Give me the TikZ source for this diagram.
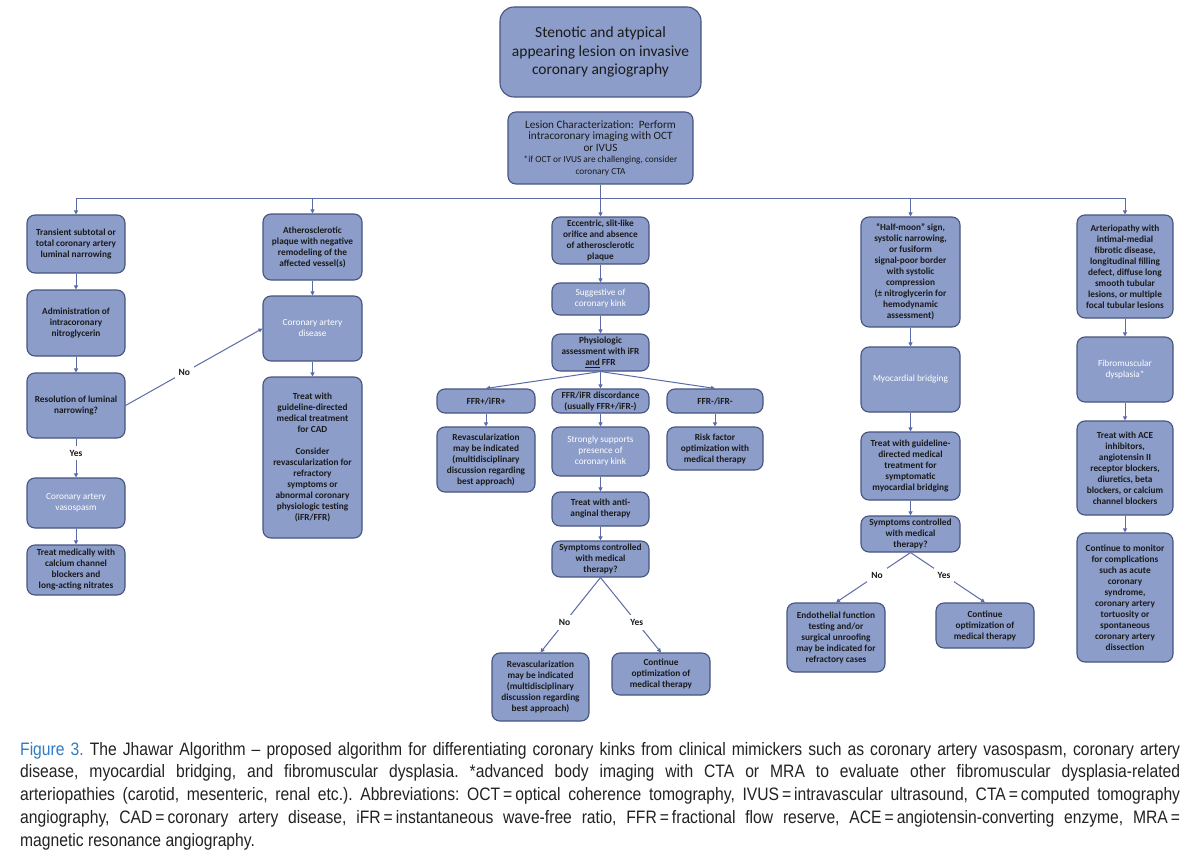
\documentclass[tikz,border=0pt]{standalone}
\usepackage{fontspec}
\usetikzlibrary{arrows.meta}
\newfontfamily\carl{Carlito}
\newfontfamily\capfont[FakeStretch=0.87]{Liberation Sans}
\definecolor{boxfill}{HTML}{8C9DCA}
\definecolor{boxdraw}{HTML}{46547F}
\definecolor{conn}{HTML}{5B6BA8}
\definecolor{figblue}{HTML}{2E7BC4}
\definecolor{txt}{HTML}{1A1A1A}
\definecolor{captxt}{HTML}{222222}
\begin{document}
\begin{tikzpicture}[x=1pt,y=-1pt,
  box/.style={draw=boxdraw, line width=1.1pt, fill=boxfill, rounded corners=8pt,
    align=center, inner sep=0pt, text=txt, font=\carl\bfseries\fontsize{9.3}{11}\selectfont},
  wt/.style={text=white, font=\carl\fontsize{9.3}{11}\selectfont},
  arr/.style={draw=conn, line width=1pt, -{Triangle[length=4pt,width=4pt]}},
  ln/.style={draw=conn, line width=1pt},
  lbl/.style={fill=white, inner sep=4pt, font=\carl\bfseries\fontsize{9.5}{11}\selectfont, text=txt}]
\useasboundingbox (0,0) rectangle (1200,856);
\fill[white] (0,0) rectangle (1200,856);

% top
\node[box, rounded corners=14pt, minimum width=201pt, minimum height=90pt,
  font=\carl\fontsize{15.5}{18.5}\selectfont] (top) at (600.5,52)
  {Stenotic and atypical\\appearing lesion on invasive\\coronary angiography};
\node[box, minimum width=185pt, minimum height=72pt,
  font=\carl\fontsize{11.2}{11.5}\selectfont] (lc) at (600.5,148)
  {Lesion Characterization:\ \ Perform\\intracoronary imaging with OCT\\or IVUS\\
   \fontsize{9.3}{9}\selectfont *if OCT or IVUS are challenging, consider\\
   \fontsize{9.3}{9}\selectfont coronary CTA};

% column 1
\node[box, minimum width=98pt, minimum height=58pt] (a1) at (76,244)
  {Transient subtotal or\\total coronary artery\\luminal narrowing};
\node[box, minimum width=98pt, minimum height=66pt] (a2) at (76,323)
  {Administration of\\intracoronary\\nitroglycerin};
\node[box, minimum width=98pt, minimum height=65pt] (a3) at (76,405.5)
  {Resolution of luminal\\narrowing?};
\node[box, wt, minimum width=98pt, minimum height=50pt] (a4) at (76,503)
  {Coronary artery\\vasospasm};
\node[box, minimum width=98pt, minimum height=50pt] (a5) at (76,570)
  {Treat medically with\\calcium channel\\blockers and\\long-acting nitrates};

% column 2
\node[box, minimum width=99pt, minimum height=66pt] (b1) at (312.5,247)
  {Atherosclerotic\\plaque with negative\\remodeling of the\\affected vessel(s)};
\node[box, wt, minimum width=99pt, minimum height=65pt] (b2) at (312.5,328.5)
  {Coronary artery\\disease};
\node[box, minimum width=99pt, minimum height=161pt] (b3) at (312.5,457.5)
  {Treat with\\guideline-directed\\medical treatment\\for CAD\\[11pt]Consider\\revascularization for\\refractory\\symptoms or\\abnormal coronary\\physiologic testing\\(iFR/FFR)};

% column 3
\node[box, minimum width=97pt, minimum height=47pt] (c1) at (600.5,240.5)
  {Eccentric, slit-like\\orifice and absence\\of atherosclerotic\\plaque};
\node[box, wt, minimum width=97pt, minimum height=32pt] (c2) at (600.5,299)
  {Suggestive of\\coronary kink};
\node[box, minimum width=97pt, minimum height=37pt] (c3) at (600.5,352.5)
  {Physiologic\\assessment with iFR\\\underline{and} FFR};
\node[box, minimum width=98pt, minimum height=24pt] (c4l) at (486,401) {FFR+/iFR+};
\node[box, minimum width=97pt, minimum height=24pt] (c4m) at (600.5,401)
  {FFR/iFR discordance\\(usually FFR+/iFR-)};
\node[box, minimum width=96pt, minimum height=24pt] (c4r) at (715,401) {FFR-/iFR-};
\node[box, minimum width=98pt, minimum height=65pt] (c5l) at (486,459.5)
  {Revascularization\\may be indicated\\(multidisciplinary\\discussion regarding\\best approach)};
\node[box, wt, minimum width=97pt, minimum height=49pt] (c5m) at (600.5,451.5)
  {Strongly supports\\presence of\\coronary kink};
\node[box, minimum width=96pt, minimum height=43pt] (c5r) at (715,448.5)
  {Risk factor\\optimization with\\medical therapy};
\node[box, minimum width=97pt, minimum height=34pt] (c6) at (600.5,509)
  {Treat with anti-\\anginal therapy};
\node[box, minimum width=97pt, minimum height=36pt] (c7) at (600.5,559)
  {Symptoms controlled\\with medical\\therapy?};
\node[box, minimum width=97pt, minimum height=68pt] (c8l) at (540.5,687)
  {Revascularization\\may be indicated\\(multidisciplinary\\discussion regarding\\best approach)};
\node[box, minimum width=98pt, minimum height=42pt] (c8r) at (661,674)
  {Continue\\optimization of\\medical therapy};

% column 4
\node[box, minimum width=99pt, minimum height=110pt] (d1) at (910.5,272)
  {“Half-moon” sign,\\systolic narrowing,\\or fusiform\\signal-poor border\\with systolic\\compression\\(± nitroglycerin for\\hemodynamic\\assessment)};
\node[box, wt, minimum width=99pt, minimum height=65pt] (d2) at (910.5,379.5)
  {Myocardial bridging};
\node[box, minimum width=99pt, minimum height=68pt] (d3) at (910.5,466)
  {Treat with guideline-\\directed medical\\treatment for\\symptomatic\\myocardial bridging};
\node[box, minimum width=99pt, minimum height=36pt] (d4) at (910.5,534)
  {Symptoms controlled\\with medical\\therapy?};
\node[box, minimum width=98pt, minimum height=69pt] (d5l) at (836,637.5)
  {Endothelial function\\testing and/or\\surgical unroofing\\may be indicated for\\refractory cases};
\node[box, minimum width=98pt, minimum height=45pt] (d5r) at (985,625.5)
  {Continue\\optimization of\\medical therapy};

% column 5
\node[box, minimum width=96pt, minimum height=103pt] (e1) at (1125,266.5)
  {Arteriopathy with\\intimal-medial\\fibrotic disease,\\longitudinal filling\\defect, diffuse long\\smooth tubular\\lesions, or multiple\\focal tubular lesions};
\node[box, wt, minimum width=96pt, minimum height=65pt] (e2) at (1125,369.5)
  {Fibromuscular\\dysplasia*};
\node[box, minimum width=96pt, minimum height=94pt] (e3) at (1125,468)
  {Treat with ACE\\inhibitors,\\angiotensin II\\receptor blockers,\\diuretics, beta\\blockers, or calcium\\channel blockers};
\node[box, minimum width=96pt, minimum height=129pt] (e4) at (1125,597.5)
  {Continue to monitor\\for complications\\such as acute\\coronary\\syndrome,\\coronary artery\\tortuosity or\\spontaneous\\coronary artery\\dissection};

% bus
\coordinate (busA) at (76,198);
\coordinate (busB) at (312.5,198);
\coordinate (busD) at (910.5,198);
\coordinate (busE) at (1125,198);
\draw[ln] (busA) -- (busE);
\draw[arr] (lc) -- (c1);
\draw[arr] (busA) -- (a1);
\draw[arr] (busB) -- (b1);
\draw[arr] (busD) -- (d1);
\draw[arr] (busE) -- (e1);

% column 1 connectors
\draw[arr] (a1) -- (a2);
\draw[arr] (a2) -- (a3);
\draw[arr] (a3) -- node[lbl, pos=0.38] {Yes} (a4);
\draw[arr] (a4) -- (a5);
\draw[arr] (a3.east) -- node[lbl, pos=0.43] {No} (b2.west);

% column 2
\draw[arr] (b1) -- (b2);
\draw[arr] (b2) -- (b3);

% column 3
\draw[arr] (c1) -- (c2);
\draw[arr] (c2) -- (c3);
\draw[arr] (c3.south) -- (c4l.north);
\draw[arr] (c3.south) -- (c4m.north);
\draw[arr] (c3.south) -- (c4r.north);
\draw[arr] (c4l) -- (c5l);
\draw[arr] (c4m) -- (c5m);
\draw[arr] (c4r) -- (c5r);
\draw[arr] (c5m) -- (c6);
\draw[arr] (c6) -- (c7);
\draw[arr] (c7.south) -- node[lbl, pos=0.6] {No} (c8l.north);
\draw[arr] (c7.south) -- node[lbl, pos=0.6] {Yes} (c8r.north);

% column 4
\draw[arr] (d1) -- (d2);
\draw[arr] (d2) -- (d3);
\draw[arr] (d3) -- (d4);
\draw[arr] (d4.south) -- node[lbl, pos=0.45] {No} (d5l.north);
\draw[arr] (d4.south) -- node[lbl, pos=0.45] {Yes} (d5r.north);

% column 5
\draw[arr] (e1) -- (e2);
\draw[arr] (e2) -- (e3);
\draw[arr] (e3) -- (e4);

% caption
\node[anchor=north west, inner sep=0pt, text width=1160pt, align=justify,
  font=\capfont\fontsize{18}{22.75}\selectfont\frenchspacing, text=captxt] (cap) at (20,742)
  {\noindent{\color{figblue}Figure 3.} The Jhawar Algorithm – proposed algorithm for differentiating coronary kinks from clinical mimickers such as coronary artery vasospasm, coronary artery\linebreak
  disease, myocardial bridging, and fibromuscular dysplasia. *advanced body imaging with CTA or MRA to evaluate other fibromuscular dysplasia-related\linebreak
  arteriopathies (carotid, mesenteric, renal etc.). Abbreviations: OCT\,=\,optical coherence tomography, IVUS\,=\,intravascular ultrasound, CTA\,=\,computed tomography\linebreak
  angiography, CAD\,=\,coronary artery disease, iFR\,=\,instantaneous wave-free ratio, FFR\,=\,fractional flow reserve, ACE\,=\,angiotensin-converting enzyme, MRA\,=\linebreak
  magnetic resonance angiography.};
\end{tikzpicture}
\end{document}
